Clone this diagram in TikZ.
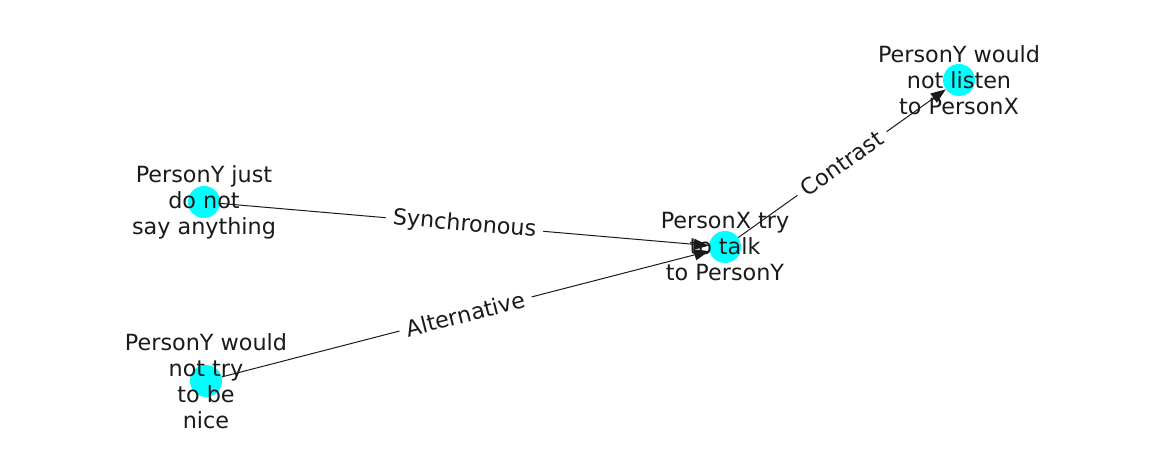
\documentclass[tikz,border=0pt]{standalone}
\usepackage{fontspec}
\setmainfont{DejaVu Sans}
\usetikzlibrary{arrows.meta}
\definecolor{nodecyan}{RGB}{0,255,255}
\definecolor{ink}{RGB}{26,26,26}
\begin{document}
\begin{tikzpicture}[x=1pt,y=-1pt,
  vert/.style={circle,fill=nodecyan,draw=none,minimum size=32pt,inner sep=0pt},
  vlabel/.style={align=center,font=\fontsize{22.3}{26}\selectfont,text=ink,inner sep=0pt},
  conn/.style={draw=ink,line width=1pt,-{Triangle[length=15pt,width=11pt]}},
  elabel/.style={sloped,fill=white,rounded corners=4pt,inner xsep=7pt,inner ysep=3pt,font=\fontsize{22.3}{26}\selectfont,text=ink}]
\useasboundingbox (0,0) rectangle (1162,462);
\node[vert] (a) at (204,202) {};
\node[vert] (b) at (206,381) {};
\node[vert] (c) at (725,247) {};
\node[vert] (d) at (959,80) {};
\draw[conn] (a) -- node[elabel] (ea) {Synchronous} (c);
\draw[conn] (b) -- node[elabel] (eb) {Alternative} (c);
\draw[conn] (c) -- node[elabel] (ec) {Contrast} (d);
\node[vlabel] (ta) at (204,202) {PersonY just\\do not\\say anything};
\node[vlabel] (tb) at (206,381) {PersonY would\\not try\\to be\\nice};
\node[vlabel] (tc) at (725,247) {PersonX try\\to talk\\to PersonY};
\node[vlabel] (td) at (959,80) {PersonY would\\not listen\\to PersonX};
\end{tikzpicture}
\end{document}
